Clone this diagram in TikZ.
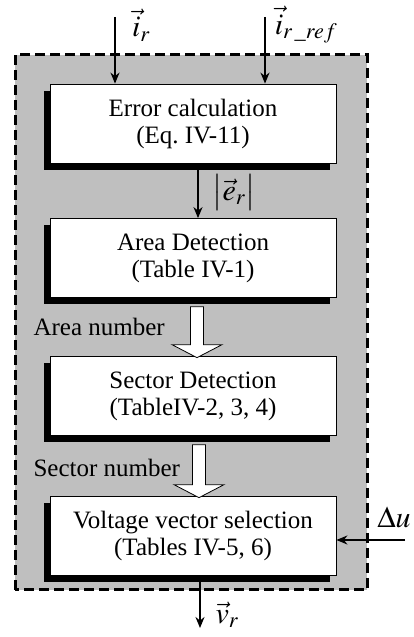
\documentclass[tikz,border=0pt]{standalone}
\usepackage{amsmath}
\usepackage{mathptmx}
\usepackage{fontspec}
\setmainfont{Liberation Serif}
\usetikzlibrary{arrows.meta, positioning, calc, shapes.arrows, shadows}

\begin{document}
\begin{tikzpicture}[x=1pt, y=1pt, >={Stealth[length=11pt, width=9pt]},
  font=\fontsize{25}{27}\selectfont,
  block/.style={draw, line width=0.8pt, fill=white, align=center,
    minimum width=286pt, minimum height=79pt, inner sep=0pt,
    drop shadow={shadow xshift=-6pt, shadow yshift=-7pt, fill=black, opacity=1}},
  flow/.style={->, line width=2pt},
  sig/.style={font=\fontsize{30}{32}\selectfont, inner sep=1pt},
  hollow/.style={single arrow, draw, line width=0.8pt, fill=white,
    shape border rotate=270, minimum width=50pt, single arrow head extend=18.5pt,
    single arrow tip angle=125, inner sep=6pt}]

\useasboundingbox (0,0) rectangle (414,637);

% ---- Controller frame ---------------------------------------------------
\draw[fill=black!25, line width=3pt, dash pattern=on 10pt off 5pt]
      (15,47) rectangle (367,582);

% ---- Blocks -------------------------------------------------------------
\node[block] (err)    at (193,513.5) {Error calculation\\(Eq.\ IV-11)};
\node[block] (area)   at (193,379)   {Area Detection\\(Table IV-1)};
\node[block] (sector) at (193,241)   {Sector Detection\\(TableIV-2, 3, 4)};
\node[block] (select) at (193,101)   {Voltage vector selection\\(Tables IV-5, 6)};

% ---- Inputs -------------------------------------------------------------
\coordinate (irin)  at (115,620);
\coordinate (refin) at (265,620);
\draw[flow] (irin) -- (irin |- err.north);
\draw[flow] (refin) -- (refin |- err.north);
\node[sig] (irlab)  at (141,612) {$\vec{i}_r$};
\node[sig] (reflab) at (306,612) {$\vec{i}_{r\,\_ref}$};

% ---- Error magnitude ----------------------------------------------------
\draw[flow] ([xshift=5pt]err.south) -- ([xshift=5pt]area.north);
\node[sig] (elab) at (234,444) {$\bigl|\vec{e}_r\bigr|$};

% ---- Hollow arrows between detections -----------------------------------
\node[hollow, minimum height=51pt] (a1)
      at ($([yshift=-7pt]area.south)!0.5!(sector.north)$) [xshift=4pt] {};
\node[anchor=west] (alab) at (30,310) {Area number};

\node[hollow, minimum height=53pt] (a2)
      at ($([yshift=-7pt]sector.south)!0.5!(select.north)$) [xshift=6pt] {};
\node[anchor=west] (slab) at (30,169) {Sector number};

% ---- Delta u and output -------------------------------------------------
\coordinate (duin) at (405,97);
\draw[flow] (duin) -- (select.east |- duin);
\node[sig] (dulab) at (394,120) {$\Delta u$};

\coordinate (vout) at (200,9);
\draw[flow] (vout |- select.south) -- (vout);
\node[sig] (vlab) at (227,22) {$\vec{v}_r$};

\end{tikzpicture}
\end{document}
